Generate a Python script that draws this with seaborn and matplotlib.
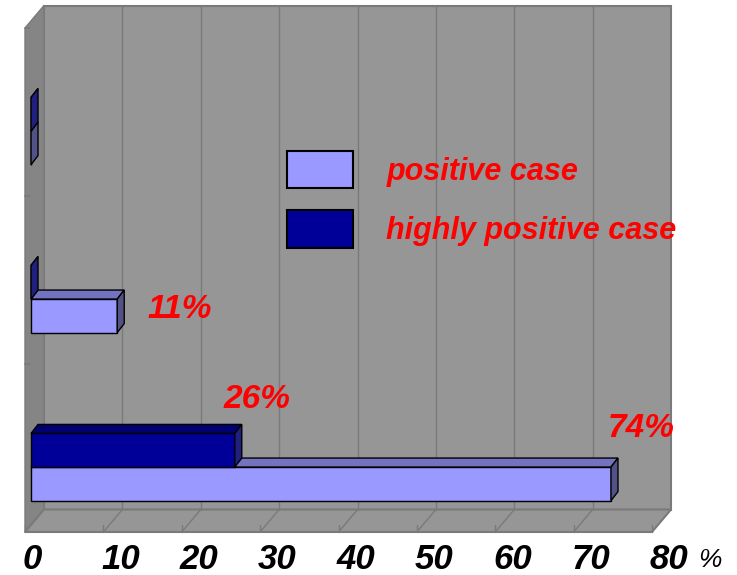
import matplotlib
matplotlib.use("Agg")
import matplotlib.pyplot as plt
import matplotlib.transforms as mtransforms
from matplotlib.patches import Polygon, Patch
from matplotlib.lines import Line2D
import seaborn as sns
import pandas as pd

# ---- data -------------------------------------------------------------
groups = ["group A", "group B", "group C"]          # top to bottom
positive_case = [0, 11, 74]                         # % of cases
highly_positive_case = [0, 0, 26]                   # % of cases
series_names = ["positive case", "highly positive case"]
tick_values = [0, 10, 20, 30, 40, 50, 60, 70, 80]
tick_labels = ["0", "10", "20", "30", "40", "50", "60", "70", "80"]

# value labels: (series, group index, text)
value_labels = [("positive case", 1, "11%"),
                ("highly positive case", 2, "26%"),
                ("positive case", 2, "74%")]
# label nudges (value units, category units) relative to bar end / bar centre
label_nudges = [(3.8, 0.013), (-1.5, -0.25), (-0.4, -0.28)]

df = pd.DataFrame({
    "group": groups * 2,
    "series": ["positive case"] * 3 + ["highly positive case"] * 3,
    "value": positive_case + highly_positive_case,
})

# ---- style ------------------------------------------------------------
sns.set_theme(style="white")
plt.rcParams["font.family"] = ["Liberation Sans", "DejaVu Sans"]

LIGHT, LIGHT_TOP, LIGHT_SIDE = "#9999FF", "#7373BF", "#525287"
DARK, DARK_TOP, DARK_SIDE = "#000099", "#000070", "#202080"
WALL, SIDE_WALL, GRID, EDGE = "#969696", "#858585", "#7A7A7A", "#7A7A7A"

W, H = 737, 575
fig = plt.figure(figsize=(W / 100, H / 100), dpi=100)
fig.patch.set_facecolor("white")

# bar plane of the 3-D box, in pixels
left_px, right_px, top_px, bot_px = 31, 658, 21, 525
ax = fig.add_axes([left_px / W, (H - bot_px) / H,
                   (right_px - left_px) / W, (bot_px - top_px) / H])
XMAX = 80
Y_TOP, Y_BOT = -0.655, 2.345
PX = (right_px - left_px) / XMAX      # pixels per value unit
PY = (bot_px - top_px) / (Y_BOT - Y_TOP)  # pixels per category unit

FRONT = (-6, 7)      # pixel offset of the front plane (right, down)
BACK = (13, -15.5)   # pixel offset of the back wall
DEPTH = (7, -9)      # pixel depth of each bar


def off(x, y, d):
    return (x + d[0] / PX, y + d[1] / PY)


def poly(pts, fc, ec, lw=1.0, z=1):
    ax.add_patch(Polygon(pts, closed=True, facecolor=fc, edgecolor=ec,
                         linewidth=lw, zorder=z, clip_on=False,
                         joinstyle="miter"))


def line(p, q, color, lw=1.0, z=1.5):
    ax.add_line(Line2D([p[0], q[0]], [p[1], q[1]], color=color, lw=lw,
                       zorder=z, clip_on=False))


# ---- bars -------------------------------------------------------------
sns.barplot(data=df, x="value", y="group", hue="series",
            hue_order=["highly positive case", "positive case"],
            palette={"positive case": LIGHT, "highly positive case": DARK},
            order=groups, orient="h", width=0.4, saturation=1,
            edgecolor="black", linewidth=1.0, legend=False, ax=ax)
ax.set_xlim(0, XMAX)
ax.set_ylim(Y_BOT, Y_TOP)

# ---- box: back wall, side wall, floor --------------------------------
poly([off(0, Y_TOP, BACK), off(XMAX, Y_TOP, BACK),
      off(XMAX, Y_BOT, BACK), off(0, Y_BOT, BACK)], WALL, EDGE, 1.5, 0.5)
poly([off(0, Y_TOP, FRONT), off(0, Y_TOP, BACK),
      off(0, Y_BOT, BACK), off(0, Y_BOT, FRONT)], SIDE_WALL, EDGE, 1.0, 0.6)
poly([off(0, Y_BOT, FRONT), off(XMAX, Y_BOT, FRONT),
      off(XMAX, Y_BOT, BACK), off(0, Y_BOT, BACK)], WALL, EDGE, 1.5, 0.6)

for v in tick_values[1:-1]:
    line(off(v, Y_TOP, BACK), off(v, Y_BOT, BACK), GRID, 1.0, 0.7)
    line(off(v, Y_BOT, FRONT), off(v, Y_BOT, BACK), GRID, 1.0, 0.7)
for v in tick_values:
    a = off(v, Y_BOT, FRONT)
    line(a, (a[0], a[1] - 7 / PY), GRID, 1.0, 0.7)
for b in [Y_TOP, Y_TOP + 1, Y_TOP + 2, Y_BOT]:
    a = off(0, b, FRONT)
    line(a, (a[0] + 5 / PX, a[1]), GRID, 1.2, 0.7)

# ---- 3-D faces on every bar --------------------------------------------
bar_lookup = {}
faces = {LIGHT: (LIGHT_TOP, LIGHT_SIDE, 3), DARK: (DARK_TOP, DARK_SIDE, 4)}
for p in list(ax.patches):
    if not hasattr(p, "get_width"):
        continue
    fc = matplotlib.colors.to_hex(p.get_facecolor())
    if fc.lower() not in (LIGHT.lower(), DARK.lower()):
        continue
    key = LIGHT if fc.lower() == LIGHT.lower() else DARK
    top_c, side_c, z = faces[key]
    x0, w = p.get_x(), p.get_width()
    y0, h = p.get_y(), p.get_height()
    ymin, ymax = min(y0, y0 + h), max(y0, y0 + h)
    x1 = x0 + w
    p.set_zorder(z)
    p.set_clip_on(False)
    poly([(x0, ymin), (x1, ymin), off(x1, ymin, DEPTH), off(x0, ymin, DEPTH)],
         top_c, "black", 1.0, z)
    poly([(x1, ymin), off(x1, ymin, DEPTH), off(x1, ymax, DEPTH), (x1, ymax)],
         side_c, "black", 1.0, z)
    gi = int(round((ymin + ymax) / 2))
    series = "positive case" if key == LIGHT else "highly positive case"
    bar_lookup[(series, gi)] = (x1, (ymin + ymax) / 2)

# ---- value labels -------------------------------------------------------
for (series, gi, txt), (nx, ny) in zip(value_labels, label_nudges):
    x_end, yc = bar_lookup[(series, gi)]
    ax.text(x_end + nx, yc + ny, txt, color="#FF0000", fontsize=24,
            fontweight="bold", fontstyle="italic", ha="left", va="baseline",
            zorder=6, clip_on=False)

# ---- axes ---------------------------------------------------------------
for s in ax.spines.values():
    s.set_visible(False)
ax.patch.set_visible(False)
ax.set_xlabel("")
ax.set_ylabel("")
ax.set_yticks([])
ax.set_xticks(tick_values)
ax.set_xticklabels(tick_labels, ha="left", va="baseline", fontsize=25,
                   fontweight="bold", fontstyle="italic", color="black")
ax.tick_params(axis="x", length=0, pad=32)
shift = mtransforms.ScaledTranslation(-8 / 100, 0, fig.dpi_scale_trans)
for lab in ax.get_xticklabels():
    lab.set_transform(lab.get_transform() + shift)

fig.text(698 / W, 1 - 567 / H, "%", fontsize=19, color="black",
         ha="left", va="baseline", fontstyle="italic")

# ---- legend -------------------------------------------------------------
handles = [Patch(facecolor=LIGHT, edgecolor="black", linewidth=1.5),
           Patch(facecolor=DARK, edgecolor="black", linewidth=1.5)]
leg = ax.legend(handles, series_names, loc="upper left",
                bbox_to_anchor=(287 / W, 1 - 151 / H),
                bbox_transform=fig.transFigure, frameon=False, borderpad=0,
                borderaxespad=0, handlelength=2.15, handleheight=1.5,
                handletextpad=1.1, labelspacing=0.72,
                prop={"family": ["Liberation Sans", "DejaVu Sans"],
                      "size": 22, "weight": "bold", "style": "italic"})
for t in leg.get_texts():
    t.set_color("#FF0000")
leg.set_zorder(7)

fig.savefig("out.png", dpi=100, facecolor="white")
